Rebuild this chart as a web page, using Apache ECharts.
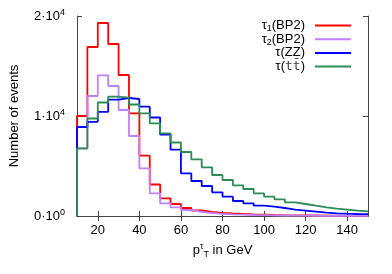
<!DOCTYPE html>
<html><head><meta charset="utf-8">
<script src="https://cdn.jsdelivr.net/npm/echarts@6/dist/echarts.min.js"></script>
<style>html,body{margin:0;padding:0;background:#fff}#c{width:392px;height:274px}</style>
</head><body><div id="c"></div>
<script>
const binStart = [10,15,20,25,30,35,40,45,50,55,60,65,70,75,80,85,90,95,100,105,110,115,120,125,130,135,140,145];
const binEnd = 150;
const tau1BP2 = [10000,16900,19300,17200,14100,10270,6030,3150,1770,1200,800,550,400,320,250,200,160,130,100,80,70,60,50,40,35,30,25,20];
const tau2BP2 = [6750,12000,14070,13000,10600,8000,4770,2270,1270,870,600,420,300,220,170,130,100,80,60,50,40,30,25,20,15,12,10,8];
const tauZZ = [8900,9420,10420,11640,11800,11700,10930,9850,8150,6630,4270,3500,3000,2370,1930,1500,1270,1030,930,800,630,530,430,330,270,230,200,180];
const tauTT = [6770,9750,11350,11930,11830,11150,10270,9270,8270,7350,6400,5670,4870,4100,3600,3070,2700,2270,1930,1670,1370,1200,1030,870,730,630,530,460];
const xTicks = [20,40,60,80,100,120,140];
const yTicks = [0,10000,20000];
const yTickLabels = ['0·10|0','1·10|4','2·10|4'];
const seriesNames = ['τ1(BP2)','τ2(BP2)','τ(ZZ)','τ(tt)'];
const seriesLegendText = ['{n|τ}{s|1}{n|(BP2)}','{n|τ}{s|2}{n|(BP2)}','{n|τ(ZZ)}','{n|τ(}{m|tt̄}{n|)}'];
const colors = ['#ff0000','#c080ff','#0000ff','#2e8b57'];
const values = [tau1BP2, tau2BP2, tauZZ, tauTT];

function steps(v){
  const d = [[binStart[0], 0]];
  for (let i = 0; i < v.length; i++) d.push([binStart[i], v[i]]);
  d.push([binEnd, v[v.length-1]]);
  return d;
}
const FONT = 'Liberation Sans';
const axisCol = '#444';
const chart = echarts.init(document.getElementById('c'), null, {renderer:'canvas'});
const legends = seriesNames.map((n,i)=>({
  data:[n], right: 41, top: 19 + i*13.7, orient:'vertical', align:'right',
  icon:'rect', itemWidth: 36, itemHeight: 2, padding: 0, itemGap: 0, selectedMode:false,
  formatter: () => seriesLegendText[i],
  textStyle:{ fontFamily: FONT, padding:[0,5,0,0],
    rich:{ n:{fontSize:13, fontFamily:FONT, color:'#000'},
           s:{fontSize:9, fontFamily:FONT, color:'#000', verticalAlign:'bottom', padding:[6,0,0,0]},
           m:{fontSize:13, fontFamily:'DejaVu Sans Mono', color:'#444'} } }
}));
const option = {
  animation:false,
  grid:{left:74, right:24, top:16, bottom:58},
  legend: legends,
  xAxis:[{
    type:'value', min:10, max:150, position:'bottom',
    axisLine:{show:true, lineStyle:{color:axisCol, width:1}},
    axisTick:{show:true, inside:true, length:5, customValues:xTicks, lineStyle:{color:axisCol}},
    axisLabel:{customValues:xTicks, color:'#000', fontFamily:FONT, fontSize:13, margin:8},
    splitLine:{show:false},
    name:'{n|p}{sup|τ}{sub|T}{n| in GeV}', nameLocation:'middle', nameGap:24,
    nameTextStyle:{ rich:{ n:{fontSize:13,fontFamily:FONT,color:'#000'},
      sup:{fontSize:9,fontFamily:FONT,color:'#000',verticalAlign:'top',padding:[0,0,6,0]},
      sub:{fontSize:9,fontFamily:FONT,color:'#000',padding:[8,0,0,0]} } }
  },{
    type:'value', min:10, max:150, position:'top',
    axisLine:{show:true, lineStyle:{color:axisCol, width:1}},
    axisTick:{show:true, inside:true, length:5, customValues:xTicks, lineStyle:{color:axisCol}},
    axisLabel:{show:false}, splitLine:{show:false}
  }],
  yAxis:[{
    type:'value', min:0, max:20000, position:'left',
    axisLine:{show:true, lineStyle:{color:axisCol, width:1}},
    axisTick:{show:true, inside:true, length:5, customValues:yTicks, lineStyle:{color:axisCol}},
    axisLabel:{customValues:yTicks, margin:12,
      formatter:(v)=>{const t=yTickLabels[yTicks.indexOf(v)].split('|'); return '{a|'+t[0]+'}{b|'+t[1]+'}';},
      rich:{ a:{fontSize:13,fontFamily:FONT,color:'#000'},
             b:{fontSize:9,fontFamily:FONT,color:'#000',padding:[0,0,7,0]} } },
    splitLine:{show:false},
    name:'Number of events', nameLocation:'middle', nameGap:56, nameRotate:90,
    nameTextStyle:{fontFamily:FONT,fontSize:13,color:'#000'}
  },{
    type:'value', min:0, max:20000, position:'right',
    axisLine:{show:true, lineStyle:{color:axisCol, width:1}},
    axisTick:{show:true, inside:true, length:5, customValues:yTicks, lineStyle:{color:axisCol}},
    axisLabel:{show:false}, splitLine:{show:false}
  }],
  series: values.map((v,i)=>({
    name: seriesNames[i], type:'line', step:'end', data: steps(v),
    xAxisIndex:0, yAxisIndex:0, symbol:'none', showSymbol:false,
    lineStyle:{color:colors[i], width:1.8}, itemStyle:{color:colors[i]}, z: 2+i
  }))
};
chart.setOption(option);
</script></body></html>
